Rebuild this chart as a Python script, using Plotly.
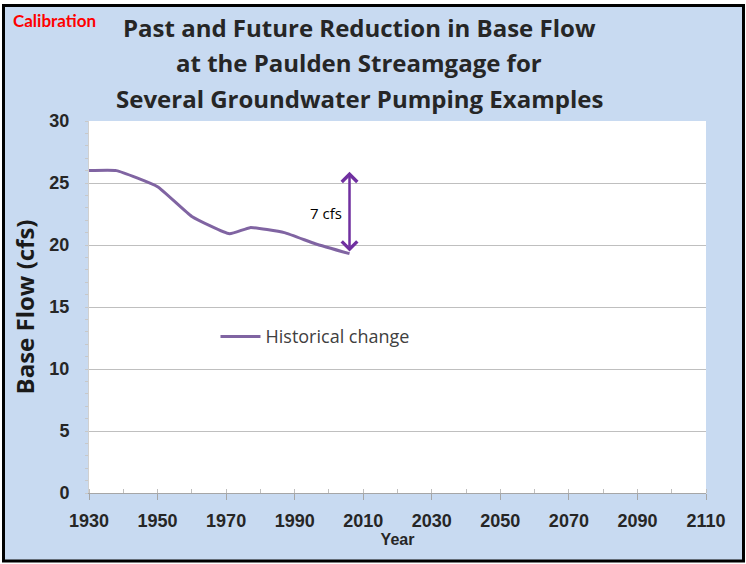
import plotly.graph_objects as go

# Historical base flow at the Paulden streamgage
years = [1930, 1938, 1950, 1960, 1971, 1977, 1987, 1996, 2006]
base_flow = [26.0, 26.0, 24.7, 22.3, 20.9, 21.4, 21.0, 20.1, 19.3]

# Reduction marker (cfs) and its label
change_year = 2006
change_top = 25.9
change_bottom = 19.35
change_label = "7 cfs"

x_ticks = [1930, 1950, 1970, 1990, 2010, 2030, 2050, 2070, 2090, 2110]
y_ticks = [0, 5, 10, 15, 20, 25, 30]

title_lines = [
    "Past and Future Reduction in Base Flow",
    "at the Paulden Streamgage for",
    "Several Groundwater Pumping Examples",
]

BG_BLUE = "#C8DAF1"
TEXT = "#262626"
LINE_PURPLE = "#8064A2"
ARROW_PURPLE = "#7030A0"
TICK_FONT = dict(family="Liberation Sans, sans-serif", size=18, color=TEXT, weight="bold")

fig = go.Figure()
fig.add_trace(go.Scatter(
    x=years, y=base_flow, mode="lines",
    name="Historical change",
    line=dict(color=LINE_PURPLE, width=3, shape="spline", smoothing=0.4),
    hoverinfo="skip",
))

fig.update_layout(
    width=746, height=564,
    margin=dict(l=89, r=40, t=121, b=71),
    paper_bgcolor=BG_BLUE,
    plot_bgcolor="white",
    font=dict(family="Open Sans, sans-serif", color=TEXT),
    showlegend=True,
    legend=dict(
        x=0.205, y=0.42, xanchor="left", yanchor="middle",
        bgcolor="rgba(0,0,0,0)",
        font=dict(family="Open Sans, sans-serif", size=18, color="#404040"),
        itemwidth=40,
    ),
)

fig.update_xaxes(
    range=[1930, 2110], tickvals=x_ticks,
    ticktext=[str(v) for v in x_ticks],
    showgrid=False, zeroline=False,
    showline=True, linecolor="#A6A6A6", linewidth=1,
    ticks="outside", ticklen=6, tickcolor="#A6A6A6", ticklabelstandoff=5,
    minor=dict(dtick=10, tick0=1930, ticks="inside", ticklen=4, tickcolor="#BFBFBF", showgrid=False),
    tickfont=TICK_FONT,
    title=dict(text="<b>Year</b>", font=dict(family="Liberation Sans, sans-serif", size=16, color=TEXT), standoff=4),
    fixedrange=True,
)
fig.update_yaxes(
    range=[0, 30], tickvals=y_ticks,
    showgrid=True, gridcolor="#BFBFBF", gridwidth=1,
    zeroline=False,
    showline=True, linecolor="#D0D0D0", linewidth=1,
    ticks="", ticklabelstandoff=15,
    minor=dict(dtick=1, ticks="outside", ticklen=3, tickcolor="#C8C8C8", showgrid=False),
    tickfont=TICK_FONT,
    title=dict(text="<b>Base Flow (cfs)</b>", font=dict(family="Open Sans, sans-serif", size=24, color="#1a1a1a"), standoff=7),
    fixedrange=True,
)

# White margin and black border around the chart
fig.add_shape(
    type="rect", xref="paper", yref="paper",
    x0=(0 - 89) / 617, x1=(746 - 89) / 617, y0=(493 - 564) / 372, y1=(493 - 0) / 372,
    line=dict(color="white", width=8), layer="above",
)
fig.add_shape(
    type="rect", xref="paper", yref="paper",
    x0=(3.5 - 89) / 617, x1=(743.5 - 89) / 617, y0=(493 - 561) / 372, y1=(493 - 5.5) / 372,
    line=dict(color="black", width=3), layer="above",
)

# Title, three centred lines
for i, line in enumerate(title_lines):
    fig.add_annotation(
        text=f"<b>{line}</b>", xref="paper", yref="paper",
        x=(359 - 89) / 617, y=(493 - 27 - 35.5 * i) / 372, xanchor="center", yanchor="middle",
        showarrow=False,
        font=dict(family="Open Sans, sans-serif", size=24, color=TEXT),
    )

fig.add_annotation(
    text="<b>Calibration</b>", xref="paper", yref="paper",
    x=(11 - 89) / 617, y=(493 - 20) / 372, xanchor="left", yanchor="middle",
    showarrow=False, font=dict(family="Lato, sans-serif", size=17, color="#FF0000"),
)

# Double-headed arrow showing the reduction
fig.add_annotation(
    x=change_year, y=change_top, ax=change_year, ay=change_bottom,
    xref="x", yref="y", axref="x", ayref="y",
    text="", showarrow=True, arrowside="end+start",
    arrowhead=4, startarrowhead=4, arrowsize=1.2, startarrowsize=1.2,
    arrowwidth=2.5, arrowcolor=ARROW_PURPLE,
)
fig.add_annotation(
    x=2004.5, y=22.6, xref="x", yref="y", text=change_label,
    showarrow=False, xanchor="right", yanchor="middle",
    font=dict(family="Open Sans, sans-serif", size=15, color="black"),
)

fig.write_html("out.html")
